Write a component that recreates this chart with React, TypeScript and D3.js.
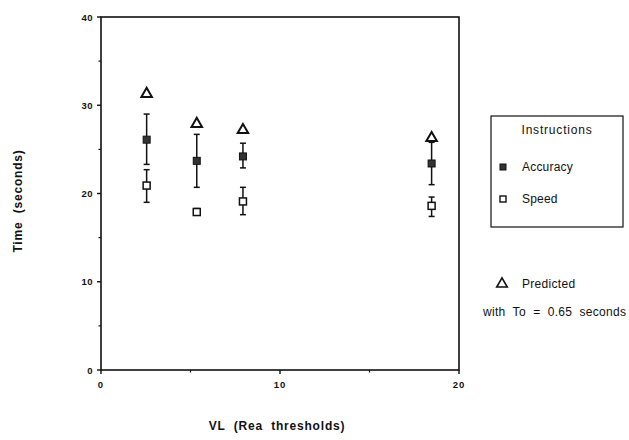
import React, { useEffect, useRef } from 'react';
import * as d3 from 'd3';

// VL positions (Rea thresholds)
const vl = [2.55, 5.35, 7.93, 18.47];
// Accuracy instruction: mean and error bar limits (seconds)
const accuracyMean = [26.1, 23.7, 24.2, 23.4];
const accuracyLow = [23.3, 20.7, 22.9, 21.0];
const accuracyHigh = [29.0, 26.7, 25.7, 25.8];
// Speed instruction
const speedMean = [20.9, 17.9, 19.1, 18.6];
const speedLow = [19.0, 17.6, 17.6, 17.4];
const speedHigh = [22.7, 18.3, 20.7, 19.6];
// Predicted with To = 0.65 s
const predicted = [31.4, 28.0, 27.3, 26.4];

const xTicks = [0, 10, 20];
const yTicks = [0, 10, 20, 30, 40];
const xMinor = [5, 15];
const yMinor = [5, 15, 25, 35];

export default function App() {
  const ref = useRef<SVGSVGElement>(null);

  useEffect(() => {
    if (!ref.current) return;
    const svg = d3.select(ref.current);
    svg.selectAll('*').remove();

    const W = 629, H = 440;
    const left = 101, right = 459, top = 17, bottom = 370;
    const x = d3.scaleLinear().domain([0, 20]).range([left, right]);
    const y = d3.scaleLinear().domain([0, 40]).range([bottom, top]);
    const font = '"Liberation Sans", Arial, sans-serif';
    const ink = '#111';

    svg.append('rect').attr('width', W).attr('height', H).attr('fill', '#fff');

    // frame
    svg.append('rect')
      .attr('x', left).attr('y', top)
      .attr('width', right - left).attr('height', bottom - top)
      .attr('fill', 'none').attr('stroke', ink).attr('stroke-width', 1.6);

    // ticks
    const g = svg.append('g');
    g.selectAll('.xt').data(xTicks).join('line')
      .attr('x1', d => x(d)).attr('x2', d => x(d))
      .attr('y1', bottom).attr('y2', bottom + 4)
      .attr('stroke', ink).attr('stroke-width', 1.4);
    g.selectAll('.xm').data(xMinor).join('line')
      .attr('x1', d => x(d)).attr('x2', d => x(d))
      .attr('y1', bottom).attr('y2', bottom + 2.5)
      .attr('stroke', ink).attr('stroke-width', 1.2);
    g.selectAll('.yt').data(yTicks).join('line')
      .attr('x1', left - 4).attr('x2', left)
      .attr('y1', d => y(d)).attr('y2', d => y(d))
      .attr('stroke', ink).attr('stroke-width', 1.4);
    g.selectAll('.ym').data(yMinor).join('line')
      .attr('x1', left - 2.5).attr('x2', left)
      .attr('y1', d => y(d)).attr('y2', d => y(d))
      .attr('stroke', ink).attr('stroke-width', 1.2);

    // tick labels
    g.selectAll('.xl').data(xTicks).join('text')
      .attr('x', d => x(d)).attr('y', bottom + 18)
      .attr('text-anchor', 'middle')
      .attr('font-family', font).attr('font-size', 9.5).attr('font-weight', 'bold')
      .attr('letter-spacing', 1)
      .attr('fill', ink).text(d => d);
    g.selectAll('.yl').data(yTicks).join('text')
      .attr('x', left - 8).attr('y', d => y(d) + 3.5)
      .attr('text-anchor', 'end')
      .attr('font-family', font).attr('font-size', 9.5).attr('font-weight', 'bold')
      .attr('letter-spacing', 0.5)
      .attr('fill', ink).text(d => d);

    // axis titles
    svg.append('text')
      .attr('x', 277).attr('y', 430)
      .attr('text-anchor', 'middle')
      .attr('font-family', font).attr('font-size', 12).attr('font-weight', 'bold')
      .attr('letter-spacing', 0.8)
      .attr('fill', ink).attr('xml:space', 'preserve')
      .text('VL  (Rea  thresholds)');
    svg.append('text')
      .attr('transform', 'translate(22,201) rotate(-90)')
      .attr('text-anchor', 'middle')
      .attr('font-family', font).attr('font-size', 12).attr('font-weight', 'bold')
      .attr('letter-spacing', 0.8)
      .attr('fill', ink).attr('xml:space', 'preserve')
      .text('Time  (seconds)');

    // error bars
    const drawBars = (lo: number[], hi: number[]) => {
      vl.forEach((v, i) => {
        const cx = x(v);
        g.append('line')
          .attr('x1', cx).attr('x2', cx).attr('y1', y(lo[i])).attr('y2', y(hi[i]))
          .attr('stroke', ink).attr('stroke-width', 1.5);
        [lo[i], hi[i]].forEach(e => {
          g.append('line')
            .attr('x1', cx - 3).attr('x2', cx + 3).attr('y1', y(e)).attr('y2', y(e))
            .attr('stroke', ink).attr('stroke-width', 1.5);
        });
      });
    };
    drawBars(accuracyLow, accuracyHigh);
    drawBars(speedLow, speedHigh);

    const tri = d3.symbol().type(d3.symbolTriangle).size(48);

    // predicted triangles
    g.selectAll('.pred').data(vl).join('path')
      .attr('d', tri)
      .attr('transform', (d, i) => `translate(${x(d)},${y(predicted[i]) + 1})`)
      .attr('fill', '#fff').attr('stroke', ink).attr('stroke-width', 2);

    // accuracy squares
    g.selectAll('.acc').data(vl).join('rect')
      .attr('x', d => x(d) - 3.5).attr('y', (d, i) => y(accuracyMean[i]) - 3.5)
      .attr('width', 7).attr('height', 7)
      .attr('fill', '#333').attr('stroke', ink).attr('stroke-width', 1);

    // speed squares
    g.selectAll('.spd').data(vl).join('rect')
      .attr('x', d => x(d) - 3.5).attr('y', (d, i) => y(speedMean[i]) - 3.5)
      .attr('width', 7).attr('height', 7)
      .attr('fill', '#fff').attr('stroke', ink).attr('stroke-width', 1.5);

    // legend
    const lg = svg.append('g');
    lg.append('rect')
      .attr('x', 491).attr('y', 116).attr('width', 132).attr('height', 111)
      .attr('fill', 'none').attr('stroke', ink).attr('stroke-width', 1.2);
    lg.append('text')
      .attr('x', 557).attr('y', 134).attr('text-anchor', 'middle')
      .attr('font-family', font).attr('font-size', 12).attr('fill', ink)
      .attr('letter-spacing', 0.8)
      .text('Instructions');
    lg.append('rect')
      .attr('x', 500).attr('y', 164).attr('width', 6).attr('height', 6)
      .attr('fill', '#333').attr('stroke', ink);
    lg.append('text')
      .attr('x', 522).attr('y', 171)
      .attr('font-family', font).attr('font-size', 12).attr('fill', ink)
      .attr('letter-spacing', 0.2)
      .text('Accuracy');
    lg.append('rect')
      .attr('x', 500).attr('y', 196).attr('width', 6).attr('height', 6)
      .attr('fill', '#fff').attr('stroke', ink).attr('stroke-width', 1.4);
    lg.append('text')
      .attr('x', 522).attr('y', 203)
      .attr('font-family', font).attr('font-size', 12).attr('fill', ink)
      .attr('letter-spacing', 0.2)
      .text('Speed');

    lg.append('path')
      .attr('d', tri)
      .attr('transform', 'translate(502,284)')
      .attr('fill', '#fff').attr('stroke', ink).attr('stroke-width', 1.6);
    lg.append('text')
      .attr('x', 522).attr('y', 288)
      .attr('font-family', font).attr('font-size', 12).attr('fill', ink)
      .attr('letter-spacing', 0.3)
      .text('Predicted');
    lg.append('text')
      .attr('x', 483).attr('y', 316)
      .attr('font-family', font).attr('font-size', 12).attr('fill', ink)
      .attr('letter-spacing', 0.3).attr('xml:space', 'preserve')
      .text('with  To  =  0.65  seconds');
  }, []);

  return (
    <svg
      ref={ref}
      width={629}
      height={440}
      style={{ position: 'absolute', left: 0, top: 0, display: 'block' }}
    />
  );
}
